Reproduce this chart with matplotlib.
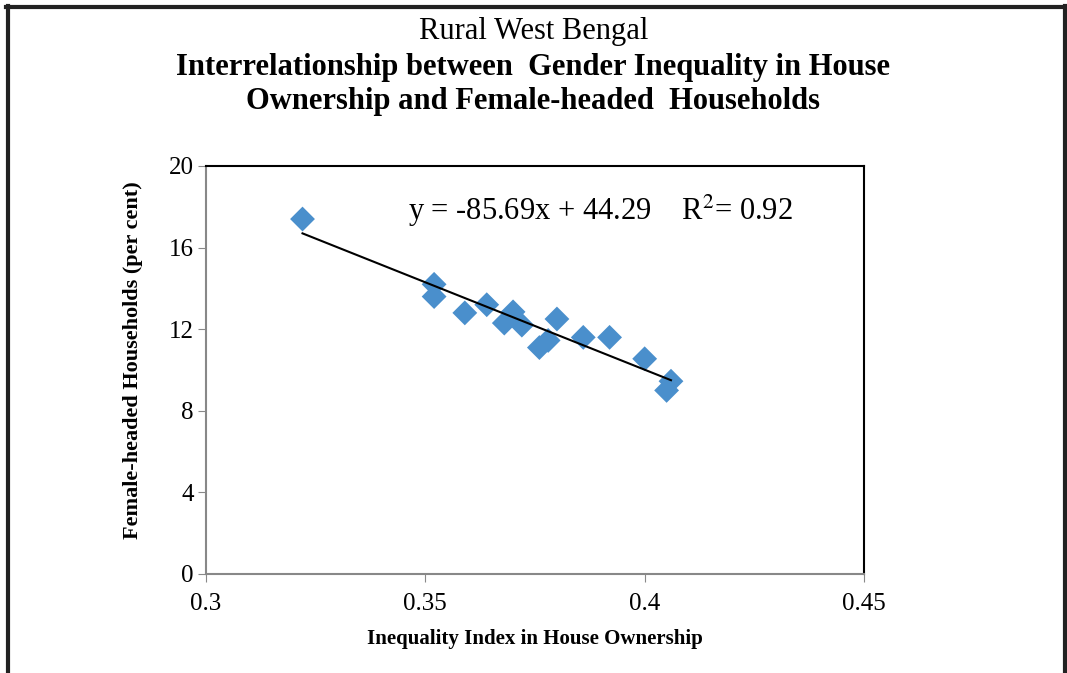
import matplotlib
matplotlib.use("Agg")
import matplotlib.pyplot as plt
from matplotlib.lines import Line2D
import numpy as np

plt.rcParams['font.family'] = ['Liberation Serif', 'DejaVu Serif']

inequality = [0.322, 0.352, 0.352, 0.359, 0.364, 0.370, 0.368, 0.372, 0.380,
              0.376, 0.378, 0.386, 0.392, 0.400, 0.406, 0.405]
female_headed = [17.4, 14.2, 13.6, 12.8, 13.2, 12.85, 12.3, 12.2, 12.5,
                 11.1, 11.45, 11.6, 11.6, 10.55, 9.45, 9.0]
slope, intercept = -85.69, 44.29
r2 = 0.92
x_ticks = [0.3, 0.35, 0.4, 0.45]
x_tick_labels = ['0.3', '0.35', '0.4', '0.45']
y_ticks = [0, 4, 8, 12, 16, 20]

fig = plt.figure(figsize=(10.67, 6.73), dpi=100)
ax = fig.add_axes([206/1067, 1-574/673, (864-206)/1067, (574-166)/673])

ax.scatter(inequality, female_headed, marker='D', s=160, color='#4A8FCC',
           edgecolors='none', zorder=3)
xs = np.array([min(inequality), max(inequality)])
ax.plot(xs, slope*xs + intercept, color='black', lw=1.5, zorder=4)

ax.set_xlim(0.3, 0.45)
ax.set_ylim(0, 20)
ax.set_xticks(x_ticks)
ax.set_xticklabels(x_tick_labels)
ax.set_yticks(y_ticks)
ax.tick_params(axis='both', labelsize=18, length=6, color='#888888', direction='out')
ax.tick_params(axis='x', pad=8)
ax.tick_params(axis='y', pad=3)
for s in ['left', 'bottom']:
    ax.spines[s].set_color('#888888')
    ax.spines[s].set_linewidth(1.5)
for s in ['top', 'right']:
    ax.spines[s].set_color('black')
    ax.spines[s].set_linewidth(1.5)

ax.set_xlabel('Inequality Index in House Ownership', fontsize=15, fontweight='bold', labelpad=10)
ax.set_ylabel('Female-headed Households (per cent)', fontsize=16, fontweight='bold')
ax.yaxis.set_label_coords(-0.095, 0.525)

ax.text(0.60, 0.89, 'y = -85.69x + 44.29    R$^{2}$= 0.92', transform=ax.transAxes,
        fontsize=22, ha='center', va='center', math_fontfamily='stix')

fig.text(0.5, 1-31/673, 'Rural West Bengal', fontsize=22, ha='center', va='center')
fig.text(0.5, 1-67/673, 'Interrelationship between  Gender Inequality in House',
         fontsize=22, fontweight='bold', ha='center', va='center')
fig.text(0.5, 1-102/673, 'Ownership and Female-headed  Households',
         fontsize=22, fontweight='bold', ha='center', va='center')

# outer frame
fig.add_artist(Line2D([7.5/1067, 7.5/1067], [0, 1-6/673], transform=fig.transFigure, color='#222222', lw=3))
fig.add_artist(Line2D([6/1067, 1065/1067], [1-6.5/673, 1-6.5/673], transform=fig.transFigure, color='#222222', lw=3))
fig.add_artist(Line2D([1065/1067, 1065/1067], [0, 1-6/673], transform=fig.transFigure, color='#222222', lw=3))

fig.savefig('out.png', dpi=100)
